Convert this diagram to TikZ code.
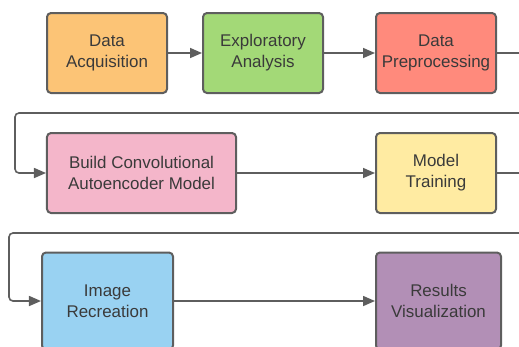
\documentclass[tikz,border=0pt]{standalone}
\usepackage{fontspec}
\setmainfont{Liberation Sans}
\usepackage{xcolor}
\usetikzlibrary{arrows.meta, positioning, calc}

\definecolor{linegray}{HTML}{5E5E5E}
\definecolor{textgray}{HTML}{3A3A3A}
\definecolor{acqorange}{HTML}{FCC476}
\definecolor{expgreen}{HTML}{A3D977}
\definecolor{prered}{HTML}{FF8A7C}
\definecolor{buildpink}{HTML}{F4B6CA}
\definecolor{trainyellow}{HTML}{FFEBA2}
\definecolor{recblue}{HTML}{99D2F2}
\definecolor{vispurple}{HTML}{B28FB6}

\begin{document}
\begin{tikzpicture}[
    x=1bp, y=-1bp,
    >={Triangle[length=12bp, width=10bp]},
    stage/.style={draw=linegray, line width=2bp, rounded corners=4bp, align=center,
        text=textgray, font=\fontsize{17}{21}\selectfont,
        minimum width=120bp, minimum height=80bp, inner sep=2bp},
    flow/.style={draw=linegray, line width=1.6bp, ->, rounded corners=4bp}
]

    \useasboundingbox (0,0) rectangle (519,346);
    \clip (0,0) rectangle (519,346);

    % ==================== ROW 1 ====================
    \node[stage, fill=acqorange] (acq) at (107,53) {Data\\Acquisition};
    \node[stage, fill=expgreen] (expl) at (263,53) {Exploratory\\Analysis};
    \node[stage, fill=prered] (prep) at (436,53) {Data\\Preprocessing};

    % ==================== ROW 2 ====================
    \node[stage, fill=buildpink, minimum width=189bp] (build) at (141.5,173) {Build Convolutional\\Autoencoder Model};
    \node[stage, fill=trainyellow] (train) at (436,173) {Model\\Training};

    % ==================== ROW 3 ====================
    \node[stage, fill=recblue, minimum width=131bp, minimum height=97bp] (recr) at (107.5,301) {Image\\Recreation};
    \node[stage, fill=vispurple, minimum width=125bp, minimum height=97bp] (vis) at (438.5,301) {Results\\Visualization};

    % Turning points of the wrap-around connectors
    \coordinate (wrapA) at (535,113);
    \coordinate (backA) at (15,113);
    \coordinate (wrapB) at (535,233);
    \coordinate (backB) at (9,233);

    % Straight connectors
    \draw[flow] (acq) -- (expl);
    \draw[flow] (expl) -- (prep);
    \draw[flow] (build) -- (train);
    \draw[flow] (recr) -- (vis);

    % Wrap-around connectors
    \draw[flow] (prep.east) -| (wrapA) -- (backA) |- (build.west);
    \draw[flow] (train.east) -| (wrapB) -- (backB) |- (recr.west);
\end{tikzpicture}
\end{document}
